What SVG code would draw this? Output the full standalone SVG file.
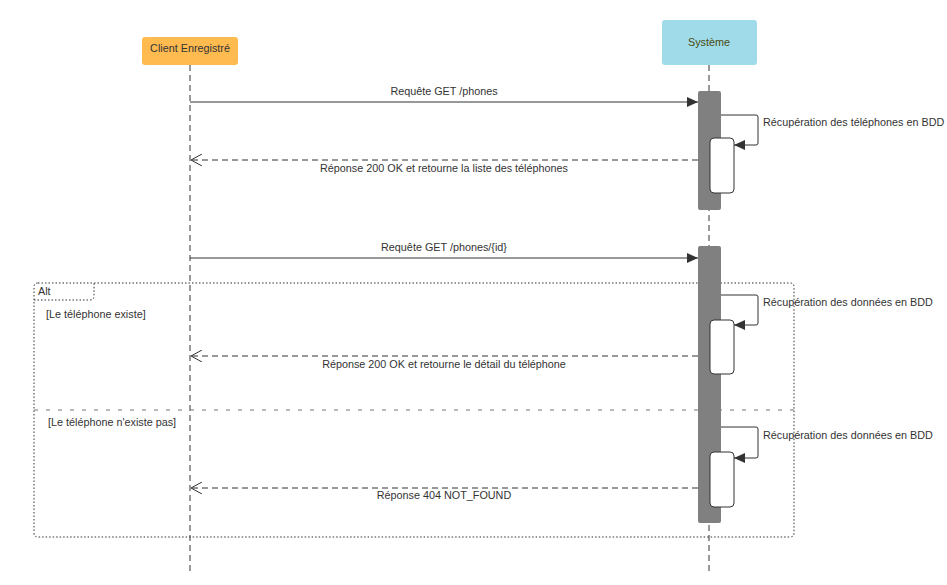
<svg xmlns="http://www.w3.org/2000/svg" width="947" height="585" viewBox="0 0 947 585">
<style>
text{font-family:"Liberation Sans",Arial,sans-serif;font-size:10.8px;fill:#333}
.c{text-anchor:middle}
.life{stroke:#333;stroke-width:1;stroke-dasharray:6,4;fill:none}
.act{fill:#808080;stroke:none}
.inner{fill:#fff;stroke:#333;stroke-width:1}
.msg{stroke:#333;stroke-width:1;fill:none}
.ret{stroke:#333;stroke-width:1;fill:none;stroke-dasharray:6,4}
.self{stroke:#333;stroke-width:1;fill:none}
.frame{stroke:#333;stroke-width:1;fill:none;stroke-dasharray:1.5,2}
</style>
<defs>
<marker id="fill" markerWidth="12" markerHeight="10" refX="11" refY="5" orient="auto" markerUnits="userSpaceOnUse"><path d="M0,0 L11,5 L0,10 z" fill="#333"/></marker>
<marker id="open" markerWidth="12" markerHeight="12" refX="11" refY="6" orient="auto" markerUnits="userSpaceOnUse"><path d="M0,0 L11,6 L0,12" fill="none" stroke="#333"/></marker>
</defs>
<rect width="947" height="585" fill="#fff"/>
<g id="client">
<line class="life" x1="190" y1="65" x2="190" y2="575"/>
<rect x="142" y="37" width="96" height="28" rx="3" fill="#ffbb50"/>
<text class="c" x="190" y="52">Client Enregistré</text>
</g>
<g id="systeme">
<line class="life" x1="709" y1="65" x2="709" y2="575"/>
<rect x="662" y="20" width="95" height="45" rx="3" fill="#9fdbe8"/>
<text class="c" x="709" y="46" style="fill:#4a4a10">Système</text>
</g>
<g id="alt-frame">
<path class="frame" d="M38,283 H790 Q794,283 794,287 V533 Q794,537 790,537 H38 Q34,537 34,533 V287 Q34,283 38,283 Z"/>
<path class="frame" d="M34,300 H90 Q94,300 94,296 V283"/>
<text x="38" y="295">Alt</text>
<text x="46" y="318">[Le téléphone existe]</text>
<line x1="34" y1="410" x2="794" y2="410" stroke="#777" stroke-width="1" stroke-dasharray="4,8"/>
<text x="48" y="426">[Le téléphone n'existe pas]</text>
</g>
<g id="activations">
<rect class="act" x="698" y="91" width="23" height="119" rx="2"/>
<rect class="act" x="698" y="246" width="23" height="277" rx="2"/>
<rect class="inner" x="710" y="138" width="24" height="55" rx="4"/>
<rect class="inner" x="710" y="320" width="24" height="54" rx="4"/>
<rect class="inner" x="710" y="452" width="24" height="55" rx="4"/>
</g>
<g id="connectors">
<line class="msg" x1="190" y1="102" x2="698" y2="102" marker-end="url(#fill)"/>
<text class="c" x="444" y="95">Requête GET /phones</text>
<path class="self" d="M721,115 H756 Q758,115 758,117 V143 Q758,145 756,145 H734" marker-end="url(#fill)"/>
<text x="763" y="126">Récupération des téléphones en BDD</text>
<line class="ret" x1="698" y1="160" x2="191" y2="160" marker-end="url(#open)"/>
<text class="c" x="444" y="172">Réponse 200 OK et retourne la liste des téléphones</text>
<line class="msg" x1="190" y1="258" x2="698" y2="258" marker-end="url(#fill)"/>
<text class="c" x="444" y="251">Requête GET /phones/{id}</text>
<path class="self" d="M721,295 H756 Q758,295 758,297 V323 Q758,325 756,325 H734" marker-end="url(#fill)"/>
<text x="763" y="306">Récupération des données en BDD</text>
<line class="ret" x1="698" y1="356" x2="191" y2="356" marker-end="url(#open)"/>
<text class="c" x="444" y="368">Réponse 200 OK et retourne le détail du téléphone</text>
<path class="self" d="M721,427 H756 Q758,427 758,429 V456 Q758,458 756,458 H734" marker-end="url(#fill)"/>
<text x="763" y="439">Récupération des données en BDD</text>
<line class="ret" x1="698" y1="488" x2="191" y2="488" marker-end="url(#open)"/>
<text class="c" x="444" y="499">Réponse 404 NOT_FOUND</text>
</g>
</svg>
